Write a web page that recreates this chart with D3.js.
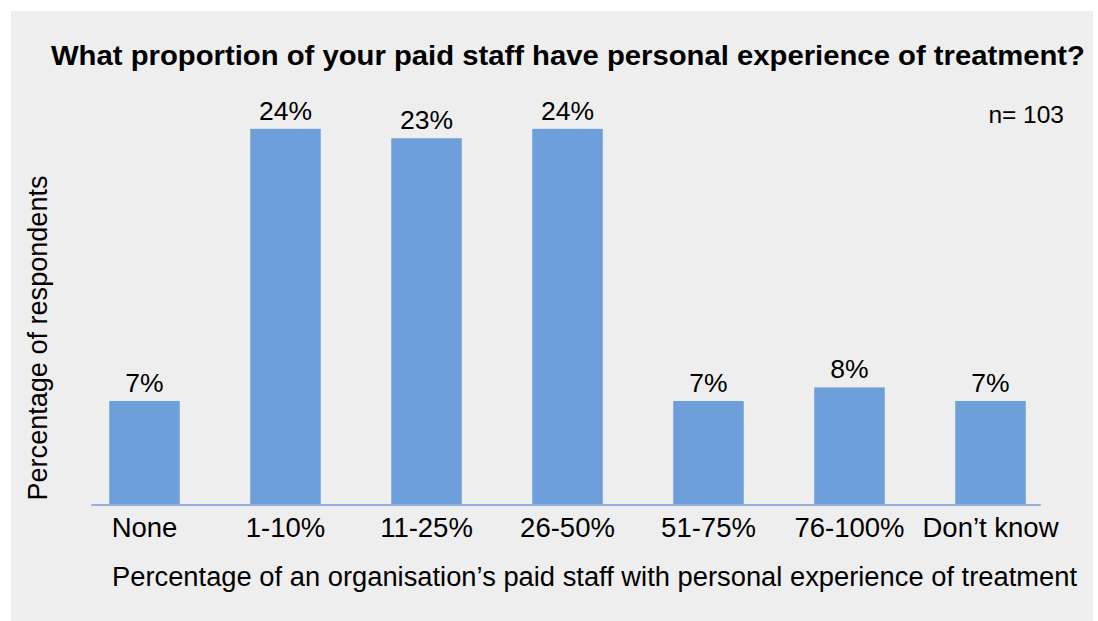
<!DOCTYPE html>
<html>
<head>
<meta charset="utf-8">
<script src="https://cdn.jsdelivr.net/npm/d3@7"></script>
<style>
	body { margin: 0; background: #ffffff; }
	text { font-family: "Liberation Sans", Arial, Helvetica, sans-serif; fill: #000; }
</style>
</head>
<body>
<svg id="chart"></svg>
<script>
// data
var categories = ["None", "1-10%", "11-25%", "26-50%", "51-75%", "76-100%", "Don\u2019t know"];
var values = [6.65, 24.05, 23.45, 24.05, 6.65, 7.52, 6.65];
var chartTitle = "What proportion of your paid staff have personal experience of treatment?";
var xTitle = "Percentage of an organisation\u2019s paid staff with personal experience of treatment";
var yTitle = "Percentage of respondents";
var note = "n= 103";

var width = 1098,
	height = 621,
	barColor = "#6f9fdb",
	axisColor = "#8fb2e3";

var svg = d3.select("#chart")
	.attr("width", width)
	.attr("height", height);

svg.append("rect")
	.attr("x", 11)
	.attr("y", 11)
	.attr("width", 1082)
	.attr("height", 610)
	.attr("fill", "#eeeeee");

var x = d3.scaleBand()
	.domain(categories)
	.range([74, 1061])
	.paddingInner(0.5)
	.paddingOuter(0.25);

var y = d3.scaleLinear()
	.domain([0, 25])
	.range([505, 114]);

var data = categories.map(function(c, i){
	return {cat: c, value: values[i]};
});

var fmt = function(v){ return Math.round(v) + "%"; };

svg.append("g")
	.selectAll("rect")
	.data(data)
	.enter().append("rect")
	.attr("x", function(d){ return x(d.cat); })
	.attr("y", function(d){ return y(d.value); })
	.attr("width", x.bandwidth())
	.attr("height", function(d){ return y(0) - y(d.value); })
	.attr("fill", barColor);

// baseline
svg.append("line")
	.attr("x1", x(categories[0]) - 18)
	.attr("x2", x(categories[categories.length - 1]) + x.bandwidth() + 15)
	.attr("y1", y(0))
	.attr("y2", y(0))
	.attr("stroke", axisColor)
	.attr("stroke-width", 2);

// value labels
svg.append("g")
	.selectAll("text")
	.data(data)
	.enter().append("text")
	.attr("x", function(d){ return x(d.cat) + x.bandwidth() / 2; })
	.attr("y", function(d){ return y(d.value) - 9; })
	.attr("text-anchor", "middle")
	.style("font-size", "26.5px")
	.text(function(d){ return fmt(d.value); });

// category labels
var xAxis = d3.axisBottom(x).tickSize(0).tickPadding(0);
var gx = svg.append("g")
	.attr("transform", "translate(0," + y(0) + ")")
	.call(xAxis);
gx.select(".domain").remove();
gx.selectAll(".tick text")
	.attr("y", 32)
	.attr("dy", 0)
	.style("font-size", "27.5px")
	.style("font-family", "\"Liberation Sans\", Arial, sans-serif")
	.attr("fill", "#000");

svg.append("text")
	.attr("x", 568)
	.attr("y", 65)
	.attr("text-anchor", "middle")
	.attr("textLength", 1034)
	.attr("lengthAdjust", "spacingAndGlyphs")
	.style("font-size", "28px")
	.style("font-weight", "bold")
	.text(chartTitle);

svg.append("text")
	.attr("x", 1064)
	.attr("y", 123)
	.attr("text-anchor", "end")
	.style("font-size", "24.5px")
	.text(note);

svg.append("text")
	.attr("x", 594.5)
	.attr("y", 586)
	.attr("text-anchor", "middle")
	.attr("textLength", 965)
	.attr("lengthAdjust", "spacingAndGlyphs")
	.style("font-size", "27px")
	.text(xTitle);

svg.append("text")
	.attr("transform", "translate(47,338) rotate(-90)")
	.attr("text-anchor", "middle")
	.attr("textLength", 325)
	.attr("lengthAdjust", "spacingAndGlyphs")
	.style("font-size", "27px")
	.text(yTitle);
</script>
</body>
</html>
